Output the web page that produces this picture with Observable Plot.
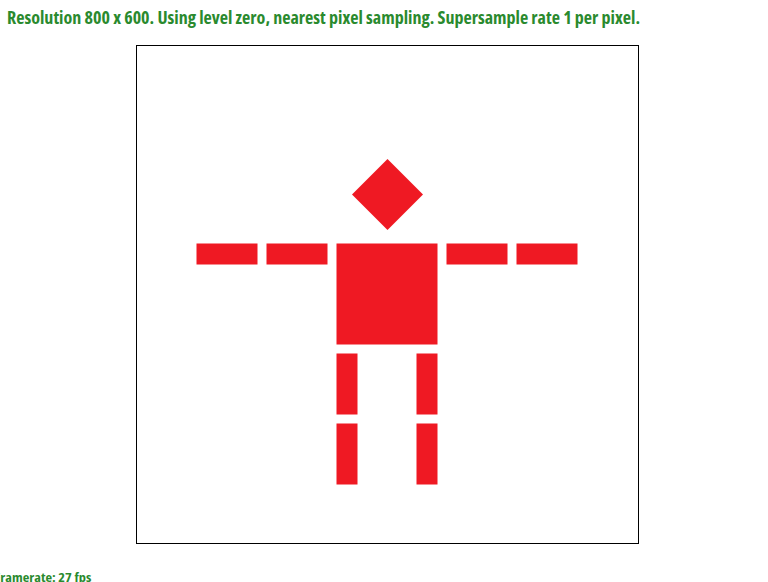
<!DOCTYPE html>
<html>
<head>
<meta charset="utf-8">
<script src="https://cdn.jsdelivr.net/npm/d3@7"></script>
<script src="https://cdn.jsdelivr.net/npm/@observablehq/plot@0.6"></script>
<style>
  html, body { margin: 0; padding: 0; background: #fff; }
  #wrap { position: relative; width: 768px; height: 582px; overflow: hidden; }
  .txt { font-family: "Open Sans", "Noto Sans", sans-serif; font-weight: 700; color: #2a8a2e; white-space: nowrap; font-stretch: condensed; }
  #title { height: 36px; padding-left: 7px; box-sizing: border-box; }
  #title span { display: inline-block; font-size: 18px; line-height: 18px; margin-top: 8px; transform-origin: 0 0; }
  #chart { height: 510px; }
  #chart svg { display: block; }
  #caption { height: 36px; position: relative; }
  #caption span { position: absolute; font-size: 12.5px; line-height: 13px; top: 25px; display: inline-block; transform-origin: 100% 0; }
</style>
</head>
<body>
<div id="wrap">
  <div id="title"><span class="txt" id="titleText">Resolution 800 x 600. Using level zero, nearest pixel sampling. Supersample rate 1 per pixel.</span></div>
  <div id="chart"></div>
  <div id="caption"><span class="txt" id="capText">Framerate: 27 fps</span></div>
</div>
<script>
// Scene parts (scene units, origin at the top-left inside of the viewport frame, y downward)
const parts = ["left forearm", "left upper arm", "torso", "right upper arm", "right forearm",
               "left thigh", "right thigh", "left shin", "right shin"];
const partX1 = [60, 130, 200, 310, 380, 200, 280, 200, 280];
const partX2 = [121, 191, 301, 371, 441, 221, 301, 221, 301];
const partY1 = [198, 198, 198, 198, 198, 308, 308, 378, 378];
const partY2 = [219, 219, 299, 219, 219, 369, 369, 439, 439];

// Head (a square rotated 45 degrees), corner points
const headX = [250.5, 286, 250.5, 215, 250.5];
const headY = [113, 148.5, 184, 148.5, 113];

const red = "#ef1923";

const rects = parts.map((p, i) => ({part: p, x1: partX1[i], x2: partX2[i], y1: partY1[i], y2: partY2[i]}));
const head = headX.map((x, i) => ({x, y: headY[i]}));

const plot = Plot.plot({
  width: 768,
  height: 510,
  marginLeft: 136,
  marginRight: 130,
  marginTop: 9,
  marginBottom: 3,
  x: {domain: [-0.5, 501.5], axis: null},
  y: {domain: [-0.5, 497.5], reverse: true, axis: null},
  marks: [
    Plot.rect(rects, {x1: "x1", x2: "x2", y1: "y1", y2: "y2", fill: red}),
    Plot.line(head, {x: "x", y: "y", fill: red, stroke: "none", curve: "linear-closed"}),
    Plot.frame({stroke: "#000", strokeWidth: 1, strokeOpacity: 1})
  ]
});
document.getElementById("chart").appendChild(plot);

// Fit the condensed title to its width in the reference
const t = document.getElementById("titleText");
const tw = t.getBoundingClientRect().width;
t.style.transform = `scaleX(${633 / tw})`;

const c = document.getElementById("capText");
const cw = c.getBoundingClientRect().width;
const s = 97 / cw;
c.style.transform = `scaleX(${s})`;
c.style.left = (91 - cw) + "px";
</script>
</body>
</html>
